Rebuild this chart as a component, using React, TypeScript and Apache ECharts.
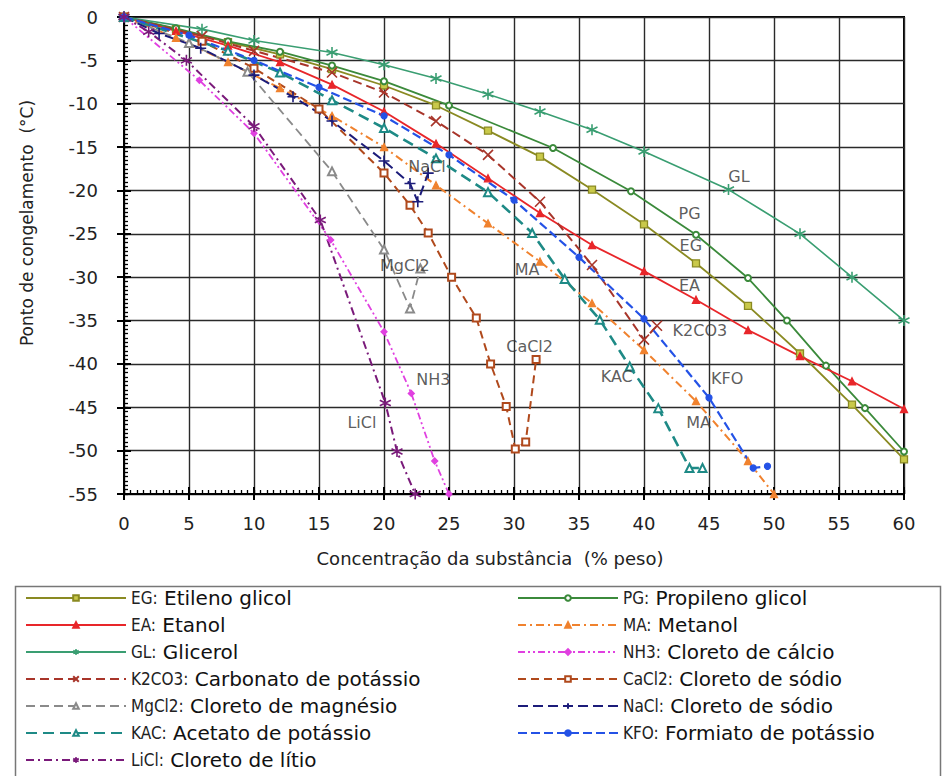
import React, { useEffect, useRef } from "react";
import * as echarts from "echarts";

// ---- data (concentration % weight, freezing point °C) ----
const EG = [[0,0],[4,-1.4],[8,-2.9],[12,-4.3],[16,-6],[20,-7.9],[24,-10.2],[28,-13.1],[32,-16.1],[36,-19.9],[40,-23.9],[44,-28.4],[48,-33.3],[52,-38.8],[56,-44.7],[60,-51]];
const PG = [[0,0],[4,-1.3],[8,-2.8],[12,-4],[16,-5.6],[20,-7.4],[25,-10.2],[33,-15.1],[39,-20.1],[44,-25.1],[48,-30.1],[51,-35],[54,-40.2],[57,-45.1],[60,-50.1]];
const EA = [[0,0],[4,-1.6],[8,-3.3],[12,-5.2],[16,-7.8],[20,-10.9],[24,-14.6],[28,-18.6],[32,-22.6],[36,-26.3],[40,-29.3],[44,-32.6],[48,-36.1],[52,-39.1],[56,-42],[60,-45.2]];
const MA = [[0,0],[4,-2.4],[8,-5.2],[12,-8.2],[16,-11.4],[20,-15],[24,-19.4],[28,-23.8],[32,-28.2],[36,-33],[40,-38.4],[44,-44.3],[48,-51.2],[50,-55]];
const GL = [[0,0],[6,-1.4],[10,-2.7],[16,-4.1],[20,-5.5],[24,-7.1],[28,-8.9],[32,-10.9],[36,-13],[40,-15.5],[46.5,-19.9],[52,-25],[56,-30],[60,-35]];
const NH3 = [[0,0],[5.8,-7.3],[10,-13.4],[15.9,-25.7],[20,-36.3],[22.1,-43.4],[23.9,-51.2],[25,-55]];
const K2CO3 = [[0,0],[6,-2.2],[10,-3.9],[16,-6.4],[20,-8.7],[24,-12],[28,-15.9],[32,-21.3],[36,-28.6],[40,-37.2],[41,-35.6]];
const CACL2 = [[0,0],[6,-2.8],[10,-5.9],[15,-10.6],[20,-18],[22,-21.7],[23.4,-24.9],[25.2,-30],[27.1,-34.7],[28.2,-40],[29.4,-44.9],[30.1,-49.8],[30.9,-49],[31.7,-39.5]];
const MGCL2 = [[0,0],[5,-3],[9.5,-6.3],[16,-17.8],[20,-26.8],[22,-33.6],[22.8,-29]];
const NACL = [[0,0],[2.7,-1.9],[5.9,-3.6],[10,-6.7],[13,-9.2],[16,-12],[20,-16.6],[22,-19.2],[22.6,-21.3],[23.4,-18]];
const KAC = [[0,0],[8,-3.9],[12,-6.4],[16,-9.6],[20,-12.8],[24,-16.3],[28,-20.2],[31.4,-24.9],[33.9,-30.2],[36.6,-34.9],[38.9,-40.3],[41.1,-45.1],[43.5,-52],[44.5,-52]];
const KFO = [[0,0],[5,-2.1],[10,-5],[15,-8.1],[20,-11.4],[25,-15.9],[30,-21.1],[35,-27.7],[40,-34.8],[45,-43.9],[48.4,-52],[49.5,-51.8]];
const LICL = [[0,0],[1.9,-1.7],[4.8,-5],[10,-12.6],[15.1,-23.4],[20.1,-44.5],[21,-50.1],[22.4,-55]];

const SERIES_CODES = ["EG","PG","EA","MA","GL","NH3","K2CO3","CaCl2","MgCl2","NaCl","KAC","KFO","LiCl"];
const SERIES_DESCS = ["Etileno glicol","Propileno glicol","Etanol","Metanol","Glicerol","Cloreto de cálcio","Carbonato de potássio","Cloreto de sódio","Cloreto de magnésio","Cloreto de sódio","Acetato de potássio","Formiato de potássio","Cloreto de lítio"];
const SERIES_DATA = [EG, PG, EA, MA, GL, NH3, K2CO3, CACL2, MGCL2, NACL, KAC, KFO, LICL];

const LEGEND_LEFT = ["EG","EA","GL","K2CO3","MgCl2","KAC","LiCl"];
const LEGEND_RIGHT = ["PG","MA","NH3","CaCl2","NaCl","KFO"];

const CURVE_LABELS = ["GL","PG","EG","EA","K2CO3","KFO","MA","MA","KAC","CaCl2","NH3","LiCl","MgCl2","NaCl"];
const CURVE_LABEL_X = [47.3,43.5,43.6,43.5,44.3,46.4,44.2,31,37.9,31.2,23.8,18.3,21.6,23.3];
const CURVE_LABEL_Y = [-18.4,-22.6,-26.3,-31,-36.1,-41.7,-46.7,-29.1,-41.4,-38,-41.8,-46.8,-28.6,-17.2];

// axis ranges
const X_MIN = 0, X_MAX = 60, X_STEP = 5, X_MINOR = 0.5;
const Y_MIN = -55, Y_MAX = 0, Y_STEP = 5, Y_MINOR = 0.5;

// ---- styles ----
const ASTER = "path://M0,-5L0,5M-4.33,-2.5L4.33,2.5M-4.33,2.5L4.33,-2.5";
const CROSS = "path://M-4,-4L4,4M-4,4L4,-4";
const PLUS = "path://M0,-5L0,5M-5,0L5,0";

type Sty = { color: string; type: any; width: number; symbol: string; size: number; fill?: string; stroke?: boolean };
const STYLES: Record<string, Sty> = {
  EG: { color: "#8a8a22", type: "solid", width: 1.8, symbol: "rect", size: 7, fill: "#c9c94a" },
  PG: { color: "#3b8a3b", type: "solid", width: 1.8, symbol: "emptyCircle", size: 6 },
  EA: { color: "#e8262a", type: "solid", width: 1.8, symbol: "triangle", size: 7 },
  MA: { color: "#f0822e", type: [8, 4, 2, 4], width: 2, symbol: "triangle", size: 7 },
  GL: { color: "#3a9e72", type: "solid", width: 1.6, symbol: ASTER, size: 11, stroke: true },
  NH3: { color: "#e040e0", type: [7, 3, 2, 3, 2, 3], width: 1.8, symbol: "diamond", size: 6 },
  K2CO3: { color: "#a8352a", type: [9, 5], width: 2, symbol: CROSS, size: 10, stroke: true },
  CaCl2: { color: "#b0491c", type: [8, 5], width: 2, symbol: "emptyRect", size: 7 },
  MgCl2: { color: "#8a8a8a", type: [9, 5], width: 1.8, symbol: "emptyTriangle", size: 8 },
  NaCl: { color: "#1c1c7a", type: [10, 5], width: 2, symbol: PLUS, size: 11, stroke: true },
  KAC: { color: "#1e8a86", type: [11, 6], width: 2.6, symbol: "emptyTriangle", size: 8 },
  KFO: { color: "#2452e6", type: [9, 4], width: 2.2, symbol: "circle", size: 6 },
  LiCl: { color: "#7a1a7a", type: [8, 4, 2, 4], width: 2, symbol: ASTER, size: 11, stroke: true },
};

const FONT = "'DejaVu Sans', 'Liberation Sans', Arial, sans-serif";
const NARROW = "'Liberation Sans Narrow', 'DejaVu Sans Condensed', 'Liberation Sans', sans-serif";

export default function App() {
  const ref = useRef<HTMLDivElement>(null);
  useEffect(() => {
    if (!ref.current) return;
    const chart = echarts.init(ref.current, undefined, { renderer: "svg" });

    const lineSeries = SERIES_CODES.map((code, i) => {
      const s = STYLES[code];
      return {
        name: code,
        type: "line",
        data: SERIES_DATA[i],
        xAxisIndex: 0,
        yAxisIndex: 0,
        symbol: s.symbol,
        symbolSize: s.size,
        showAllSymbol: true,
        lineStyle: { color: s.color, width: s.width, type: s.type },
        itemStyle: s.stroke
          ? { color: "rgba(0,0,0,0)", borderColor: s.color, borderWidth: 1.6 }
          : { color: s.fill || s.color, borderColor: s.color, borderWidth: 1.3 },
        emphasis: { disabled: true },
        z: 3,
      };
    });

    const labelSeries = {
      name: "labels",
      type: "scatter",
      xAxisIndex: 0,
      yAxisIndex: 0,
      symbolSize: 0,
      silent: true,
      data: CURVE_LABELS.map((t, i) => ({ name: t, value: [CURVE_LABEL_X[i], CURVE_LABEL_Y[i]] })),
      label: {
        show: true,
        position: "inside",
        formatter: "{b}",
        fontFamily: FONT,
        fontSize: 16,
        color: "#333",
      },
      z: 5,
    };

    const rich = {
      a: { fontFamily: NARROW, fontSize: 17, color: "#222", lineHeight: 20 },
      b: { fontFamily: FONT, fontSize: 20, color: "#111", lineHeight: 20 },
    };
    const fmt = (name: string) => {
      const idx = SERIES_CODES.indexOf(name);
      return `{a|${name}:}{b| ${SERIES_DESCS[idx]}}`;
    };
    const legendBase = {
      orient: "vertical",
      top: 588,
      itemWidth: 100,
      itemHeight: 7,
      itemGap: 7,
      padding: 0,
      selectedMode: false,
      formatter: fmt,
      textStyle: { rich },
    };

    const tickOnly = (len: number, inside: boolean, width: number) => ({
      type: "value",
      offset: 0,
      axisLine: { show: false, onZero: false },
      axisTick: { show: true, inside, length: len, lineStyle: { color: "#000", width } },
      axisLabel: { show: false },
      splitLine: { show: false },
    });

    chart.setOption({
      animation: false,
      backgroundColor: "#fff",
      grid: {
        left: 124,
        right: 39,
        top: 17,
        bottom: 282,
        show: true,
        borderColor: "#000",
        borderWidth: 2,
        backgroundColor: "transparent",
        outerBoundsMode: "none",
      },
      xAxis: [
        {
          type: "value",
          min: X_MIN,
          max: X_MAX,
          interval: X_STEP,
          axisLine: { show: true, onZero: false, lineStyle: { color: "#000", width: 2 } },
          axisTick: { show: true, inside: true, length: 7, lineStyle: { color: "#000", width: 2 } },
          splitLine: { show: true, lineStyle: { color: "#2a2a2a", width: 1.4 } },
          axisLabel: { margin: 20, fontSize: 18, fontFamily: FONT, color: "#222" },
        },
        { ...tickOnly(6, false, 2), min: X_MIN, max: X_MAX, interval: X_STEP, position: "bottom" },
        { ...tickOnly(4, true, 1.3), min: X_MIN, max: X_MAX, interval: X_MINOR, position: "bottom" },
      ],
      yAxis: [
        {
          type: "value",
          min: Y_MIN,
          max: Y_MAX,
          interval: Y_STEP,
          axisLine: { show: true, onZero: false, lineStyle: { color: "#000", width: 2 } },
          axisTick: { show: true, inside: true, length: 7, lineStyle: { color: "#000", width: 2 } },
          splitLine: { show: true, lineStyle: { color: "#2a2a2a", width: 1.4 } },
          axisLabel: { margin: 26, fontSize: 18, fontFamily: FONT, color: "#222" },
        },
        { ...tickOnly(7, false, 2), min: Y_MIN, max: Y_MAX, interval: Y_STEP, position: "left" },
        { ...tickOnly(4, true, 1.3), min: Y_MIN, max: Y_MAX, interval: Y_MINOR, position: "left" },
      ],
      legend: [
        { ...legendBase, left: 25, data: LEGEND_LEFT },
        { ...legendBase, left: 517, data: LEGEND_RIGHT },
      ],
      graphic: [
        {
          type: "rect",
          left: 13,
          top: 584,
          shape: { width: 925, height: 200 },
          style: { fill: "none", stroke: "#777", lineWidth: 1.5 },
          silent: true,
        },
        {
          type: "text",
          x: 27,
          y: 223,
          rotation: Math.PI / 2,
          style: {
            text: "Ponto de congelamento  (°C)",
            fontFamily: FONT,
            fontSize: 17,
            fill: "#222",
            align: "center",
            verticalAlign: "middle",
          },
          silent: true,
        },
        {
          type: "text",
          x: 490,
          y: 558,
          style: {
            text: "Concentração da substância  (% peso)",
            fontFamily: FONT,
            fontSize: 18,
            fill: "#222",
            align: "center",
            verticalAlign: "middle",
          },
          silent: true,
        },
      ],
      series: [...lineSeries, labelSeries],
    });

    return () => chart.dispose();
  }, []);

  return (
    <div
      ref={ref}
      style={{ position: "fixed", left: 0, top: 0, width: 943, height: 776, background: "#fff" }}
    />
  );
}
